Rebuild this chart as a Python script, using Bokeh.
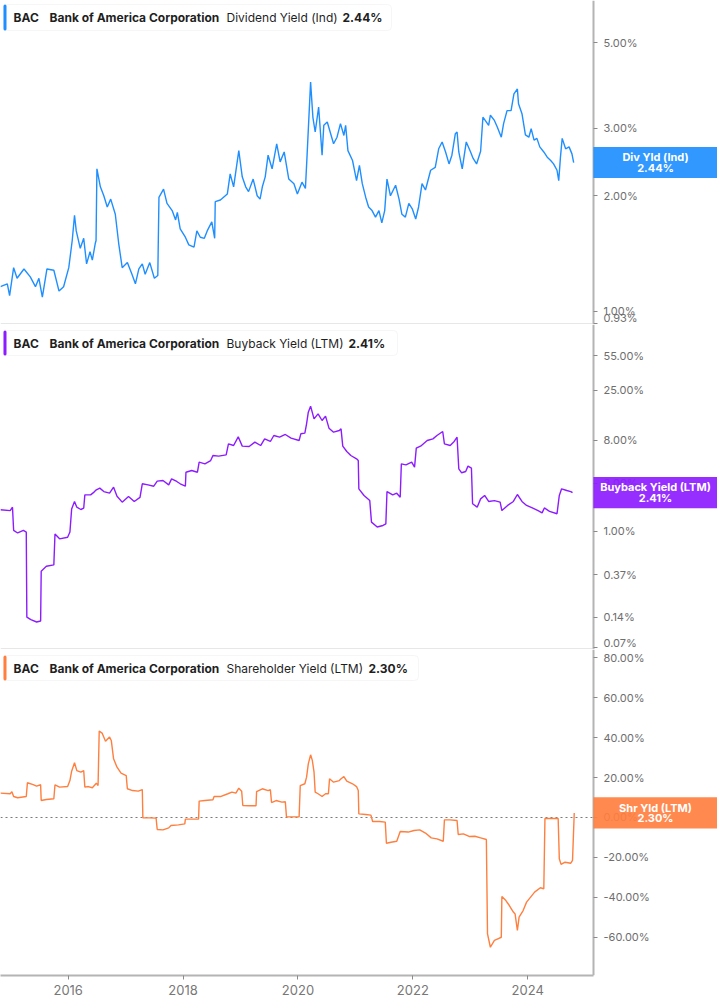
import math
from bokeh.plotting import figure
from bokeh.models import Range1d, FixedTicker, PrintfTickFormatter, Label, BoxAnnotation
from bokeh.layouts import column
from bokeh.embed import file_html
from bokeh.resources import INLINE

# ---------------- data ----------------
div_years = [2014.82, 2014.94, 2014.98, 2015.05, 2015.11, 2015.23, 2015.34, 2015.43, 2015.49, 2015.55,
             2015.63, 2015.75, 2015.84, 2015.92, 2016.01, 2016.07, 2016.11, 2016.14, 2016.21, 2016.27,
             2016.32, 2016.38, 2016.42, 2016.47, 2016.485, 2016.50, 2016.56, 2016.62, 2016.68, 2016.74,
             2016.82, 2016.88, 2016.94, 2017.03, 2017.11, 2017.17, 2017.23, 2017.29, 2017.34, 2017.42,
             2017.50, 2017.56, 2017.58, 2017.66, 2017.72, 2017.81, 2017.87, 2017.90, 2017.95, 2018.04,
             2018.10, 2018.19, 2018.24, 2018.30, 2018.37, 2018.42, 2018.50, 2018.55, 2018.56, 2018.65,
             2018.77, 2018.82, 2018.88, 2018.97, 2019.03, 2019.09, 2019.14, 2019.22, 2019.29, 2019.34,
             2019.38, 2019.43, 2019.48, 2019.55, 2019.63, 2019.69, 2019.76, 2019.84, 2019.93, 2019.99,
             2020.07, 2020.13, 2020.16, 2020.22, 2020.26, 2020.30, 2020.36, 2020.42, 2020.45, 2020.51,
             2020.62, 2020.68, 2020.74, 2020.80, 2020.83, 2020.87, 2020.95, 2021.02, 2021.07, 2021.12,
             2021.18, 2021.23, 2021.29, 2021.35, 2021.41, 2021.46, 2021.51, 2021.55, 2021.61, 2021.70,
             2021.76, 2021.81, 2021.87, 2021.93, 2021.99, 2022.05, 2022.10, 2022.16, 2022.22, 2022.31,
             2022.39, 2022.45, 2022.51, 2022.57, 2022.63, 2022.68, 2022.74, 2022.77, 2022.80, 2022.86,
             2022.93, 2023.00, 2023.05, 2023.11, 2023.18, 2023.22, 2023.26, 2023.32, 2023.35, 2023.42,
             2023.47, 2023.54, 2023.58, 2023.64, 2023.71, 2023.76, 2023.82, 2023.84, 2023.90, 2023.96,
             2024.02, 2024.06, 2024.11, 2024.16, 2024.21, 2024.28, 2024.34, 2024.40, 2024.45, 2024.51,
             2024.54, 2024.57, 2024.60, 2024.66, 2024.72, 2024.77, 2024.80]
div_vals = [1.16, 1.18, 1.10, 1.30, 1.22, 1.29, 1.23, 1.16, 1.22, 1.09,
            1.29, 1.28, 1.13, 1.16, 1.30, 1.53, 1.78, 1.62, 1.46, 1.55,
            1.33, 1.43, 1.36, 1.50, 1.53, 2.35, 2.11, 2.00, 1.87, 1.96,
            1.79, 1.50, 1.30, 1.34, 1.25, 1.18, 1.29, 1.33, 1.25, 1.34,
            1.22, 1.24, 1.98, 2.08, 1.91, 1.83, 1.73, 1.81, 1.64, 1.56,
            1.49, 1.47, 1.62, 1.56, 1.55, 1.62, 1.71, 1.55, 1.93, 1.95,
            2.02, 2.28, 2.11, 2.62, 2.24, 2.11, 2.05, 2.21, 2.00, 1.96,
            2.11, 2.24, 2.55, 2.35, 2.73, 2.45, 2.60, 2.21, 2.15, 2.02,
            2.17, 2.09, 2.57, 3.95, 3.20, 2.93, 3.40, 2.55, 3.05, 3.11,
            2.73, 2.84, 3.08, 2.87, 3.05, 2.62, 2.47, 2.19, 2.40, 2.15,
            1.98, 1.87, 1.83, 1.76, 1.83, 1.70, 1.83, 2.21, 2.00, 2.13,
            1.96, 1.79, 1.76, 1.91, 1.85, 1.74, 1.87, 2.15, 2.07, 2.33,
            2.37, 2.65, 2.76, 2.60, 2.42, 2.55, 2.90, 2.93, 2.60, 2.35,
            2.76, 2.61, 2.50, 2.42, 2.61, 3.20, 3.14, 3.05, 3.24, 3.14,
            3.02, 2.84, 3.08, 3.33, 3.33, 3.68, 3.79, 3.47, 3.27, 2.88,
            2.84, 2.99, 2.79, 2.82, 2.68, 2.60, 2.52, 2.47, 2.42, 2.33,
            2.19, 2.52, 2.82, 2.65, 2.68, 2.57, 2.44]

bb_years = [2014.82, 2014.99, 2015.03, 2015.05, 2015.12, 2015.22, 2015.27, 2015.28, 2015.35, 2015.45,
            2015.52, 2015.53, 2015.62, 2015.75, 2015.77, 2015.85, 2015.99, 2016.03, 2016.06, 2016.11,
            2016.15, 2016.22, 2016.27, 2016.29, 2016.39, 2016.45, 2016.49, 2016.55, 2016.62, 2016.72,
            2016.79, 2016.85, 2016.94, 2017.05, 2017.15, 2017.25, 2017.29, 2017.39, 2017.49, 2017.55,
            2017.65, 2017.75, 2017.80, 2017.89, 2017.95, 2018.04, 2018.05, 2018.15, 2018.25, 2018.28,
            2018.38, 2018.48, 2018.52, 2018.62, 2018.75, 2018.79, 2018.88, 2018.96, 2019.03, 2019.15,
            2019.25, 2019.35, 2019.42, 2019.52, 2019.58, 2019.68, 2019.78, 2019.88, 2020.02, 2020.05,
            2020.12, 2020.15, 2020.18, 2020.22, 2020.28, 2020.35, 2020.42, 2020.48, 2020.54, 2020.62,
            2020.72, 2020.75, 2020.78, 2020.85, 2020.92, 2021.02, 2021.05, 2021.06, 2021.15, 2021.25,
            2021.28, 2021.38, 2021.48, 2021.53, 2021.55, 2021.65, 2021.72, 2021.78, 2021.80, 2021.88,
            2021.98, 2022.03, 2022.06, 2022.15, 2022.25, 2022.35, 2022.42, 2022.52, 2022.55, 2022.65,
            2022.72, 2022.77, 2022.80, 2022.85, 2022.92, 2022.96, 2023.02, 2023.04, 2023.12, 2023.18,
            2023.25, 2023.32, 2023.42, 2023.52, 2023.55, 2023.65, 2023.75, 2023.82, 2023.90, 2023.98,
            2024.08, 2024.18, 2024.25, 2024.29, 2024.38, 2024.51, 2024.55, 2024.59, 2024.68, 2024.75,
            2024.78]
bb_vals = [1.63, 1.60, 1.73, 1.02, 0.96, 1.02, 0.98, 0.141, 0.133, 0.126,
           0.129, 0.402, 0.450, 0.464, 0.94, 0.84, 0.87, 0.98, 1.66, 1.97,
           1.73, 1.64, 1.69, 2.29, 2.29, 2.44, 2.57, 2.67, 2.47, 2.38,
           2.73, 2.22, 1.94, 2.21, 1.97, 2.16, 2.95, 2.88, 2.79, 3.13,
           3.18, 2.88, 3.30, 3.11, 2.95, 2.79, 3.84, 3.99, 3.84, 4.83,
           4.65, 5.01, 5.62, 5.54, 5.71, 7.33, 7.06, 8.61, 6.96, 6.90,
           7.62, 7.06, 8.22, 7.74, 8.87, 8.54, 9.08, 8.35, 7.91, 9.22,
           9.36, 11.57, 15.11, 17.32, 12.98, 14.54, 12.49, 13.79, 10.49, 9.57,
           9.94, 10.33, 6.96, 6.16, 5.62, 5.21, 5.01, 2.63, 2.26, 2.01,
           1.23, 1.10, 1.14, 1.18, 2.47, 2.29, 2.38, 2.17, 4.65, 4.54,
           4.83, 4.31, 6.65, 7.06, 7.91, 8.22, 8.87, 9.72, 7.33, 7.06,
           7.74, 8.54, 4.15, 3.79, 3.90, 4.41, 4.21, 1.87, 1.73, 2.09,
           2.26, 1.97, 2.01, 1.94, 1.60, 1.80, 1.97, 2.31, 1.97, 1.80,
           1.70, 1.60, 1.52, 1.70, 1.57, 1.49, 2.26, 2.63, 2.53, 2.47,
           2.41]

shy_years = [2014.82, 2014.99, 2015.02, 2015.05, 2015.12, 2015.27, 2015.29, 2015.39, 2015.45, 2015.52,
             2015.53, 2015.62, 2015.75, 2015.77, 2015.85, 2015.99, 2016.03, 2016.06, 2016.11, 2016.15,
             2016.22, 2016.27, 2016.29, 2016.35, 2016.42, 2016.49, 2016.52, 2016.54, 2016.59, 2016.65,
             2016.72, 2016.75, 2016.79, 2016.85, 2016.92, 2017.01, 2017.03, 2017.12, 2017.22, 2017.29,
             2017.30, 2017.42, 2017.53, 2017.55, 2017.65, 2017.75, 2017.79, 2017.92, 2018.03, 2018.04,
             2018.15, 2018.27, 2018.28, 2018.38, 2018.52, 2018.54, 2018.65, 2018.78, 2018.85, 2018.92,
             2018.97, 2019.02, 2019.04, 2019.15, 2019.27, 2019.28, 2019.38, 2019.48, 2019.52, 2019.54,
             2019.62, 2019.72, 2019.78, 2019.80, 2019.92, 2020.02, 2020.04, 2020.12, 2020.15, 2020.18,
             2020.22, 2020.25, 2020.28, 2020.30, 2020.35, 2020.42, 2020.48, 2020.53, 2020.55, 2020.62,
             2020.72, 2020.75, 2020.80, 2020.85, 2020.95, 2021.02, 2021.05, 2021.06, 2021.18, 2021.27,
             2021.30, 2021.42, 2021.52, 2021.54, 2021.62, 2021.72, 2021.78, 2021.92, 2022.02, 2022.12,
             2022.22, 2022.32, 2022.42, 2022.53, 2022.55, 2022.65, 2022.77, 2022.79, 2022.88, 2022.98,
             2023.08, 2023.18, 2023.28, 2023.30, 2023.35, 2023.42, 2023.48, 2023.54, 2023.55, 2023.62,
             2023.68, 2023.75, 2023.78, 2023.82, 2023.85, 2023.92, 2023.98, 2024.05, 2024.12, 2024.22,
             2024.28, 2024.30, 2024.42, 2024.53, 2024.55, 2024.58, 2024.65, 2024.75, 2024.78, 2024.81]
shy_vals = [12.2, 11.9, 12.9, 10.5, 9.9, 10.5, 17.4, 16.5, 15.7, 16.4,
            8.5, 9.0, 9.4, 16.4, 15.2, 15.5, 18.5, 23.2, 27.4, 23.5,
            22.7, 23.5, 15.2, 15.5, 14.9, 17.2, 16.0, 43.3, 42.3, 38.2,
            40.3, 38.6, 29.4, 25.2, 22.2, 21.0, 14.4, 13.5, 13.2, 14.0,
            -0.2, -0.2, -0.3, -6.0, -6.2, -5.2, -4.0, -3.7, -3.2, -0.8,
            -0.8, -0.8, 8.2, 8.5, 8.9, 10.5, 10.5, 11.9, 12.7, 12.2,
            14.7, 13.2, 6.0, 5.9, 5.9, 13.0, 14.4, 13.5, 13.9, 7.5,
            8.5, 7.7, 7.9, 0.3, 0.3, 0.3, 16.0, 16.9, 20.2, 26.9,
            31.4, 28.6, 22.7, 12.7, 11.9, 10.5, 11.9, 11.9, 19.4, 17.7,
            18.5, 19.4, 20.5, 18.2, 16.9, 15.5, 13.5, 1.8, 1.5, 1.2,
            -2.0, -2.0, -2.3, -12.9, -12.4, -11.9, -7.0, -7.3, -6.5, -6.2,
            -7.8, -10.2, -10.7, -11.9, -1.2, -1.2, -1.5, -8.5, -8.2, -9.5,
            -9.4, -10.2, -11.0, -58.3, -65.0, -61.6, -60.8, -60.0, -39.6, -41.6,
            -44.1, -47.4, -48.3, -56.6, -49.9, -46.6, -42.4, -39.9, -37.4, -35.2,
            -35.7, -0.5, -0.5, -0.5, -20.7, -23.5, -22.4, -22.9, -21.5, 2.30]

year_ticks = [2016, 2018, 2020, 2022, 2024]
year_labels = ["2016", "2018", "2020", "2022", "2024"]
div_ticks = [0.93, 1.0, 2.0, 3.0, 5.0]
bb_ticks = [0.07, 0.14, 0.37, 1.0, 3.0, 8.0, 25.0, 55.0]
shy_ticks = [-60, -40, -20, 0, 20, 40, 60, 80]

ticker_sym = "BAC"
company = "Bank of America Corporation"
metrics = ["Dividend Yield (Ind)", "Buyback Yield (LTM)", "Shareholder Yield (LTM)"]
metric_vals = ["2.44%", "2.41%", "2.30%"]
tag_names = ["Div Yld (Ind)", "Buyback Yield (LTM)", "Shr Yld (LTM)"]
last_vals = [2.44, 2.41, 2.30]

# ---------------- layout / style ----------------
COLORS = ["#1f8fff", "#8c1cff", "#ff7f3f"]
W = 717                 # whole width is the plot frame
AXIS_PX = 593           # pixel column where the value axis sits
PX_PER_YEAR = 57.44
X0 = 2014.8214
AXIS_X = X0 + AXIS_PX / PX_PER_YEAR
x_range = Range1d(X0, X0 + W / PX_PER_YEAR)
FONT = "Inter"

panels = [
    dict(top=0, fh=324, log=True, lo=0.925, hi=6.44, ticks=div_ticks, xs=div_years, ys=div_vals,
         box=(4, 30, 391), val_x=342, sep=True, zero=False),
    dict(top=324, fh=325, log=True, lo=0.0673, hi=111.6, ticks=bb_ticks, xs=bb_years, ys=bb_vals,
         box=(330, 355, 397), val_x=348, sep=True, zero=False),
    dict(top=649, fh=326, log=False, lo=-79.16, hi=84.17, ticks=shy_ticks, xs=shy_years, ys=shy_vals,
         box=(655, 680, 418), val_x=368, sep=False, zero=True),
]


def screen_box(left, right, top, bottom, **kw):
    return BoxAnnotation(left=left, right=right, top=top, bottom=bottom,
                         left_units="screen", right_units="screen",
                         top_units="screen", bottom_units="screen", **kw)


figs = []
for i, cfg in enumerate(panels):
    bottom_axis = (i == 2)
    bb = 28 if bottom_axis else 0
    p = figure(width=W, height=cfg["fh"] + bb, x_range=x_range,
               y_range=Range1d(cfg["lo"], cfg["hi"]),
               y_axis_type="log" if cfg["log"] else "linear",
               y_axis_location="right",
               x_axis_location="below" if bottom_axis else None,
               toolbar_location=None, output_backend="svg",
               min_border_left=0, min_border_right=0,
               min_border_top=0, min_border_bottom=bb)
    p.outline_line_color = None
    p.xgrid.visible = False
    p.ygrid.visible = False
    p.background_fill_color = "white"
    p.border_fill_color = "white"

    ya = p.yaxis[0]
    ya.fixed_location = AXIS_X
    ya.ticker = FixedTicker(ticks=cfg["ticks"])
    ya.formatter = PrintfTickFormatter(format="%.2f%%")
    ya.axis_line_color = "#b4b4b4"
    ya.axis_line_width = 2
    ya.major_tick_line_color = "#8a8a8a"
    ya.major_tick_out = 4
    ya.major_tick_in = 0
    ya.minor_tick_line_color = None
    ya.major_label_text_font = FONT
    ya.major_label_text_font_size = "11px"
    ya.major_label_text_color = "#6e6e6e"
    ya.major_label_standoff = 6

    if bottom_axis:
        xa = p.xaxis[0]
        xa.bounds = (X0, AXIS_X)
        xa.ticker = FixedTicker(ticks=year_ticks)
        xa.major_label_overrides = {t: l for t, l in zip(year_ticks, year_labels)}
        xa.axis_line_color = "#b4b4b4"
        xa.axis_line_width = 2
        xa.major_tick_line_color = "#8a8a8a"
        xa.major_tick_out = 4
        xa.major_tick_in = 0
        xa.minor_tick_line_color = None
        xa.major_label_text_font = FONT
        xa.major_label_text_font_size = "13px"
        xa.major_label_text_color = "#777777"
        xa.major_label_standoff = 5

    if cfg["sep"]:
        p.add_layout(screen_box(0, AXIS_PX, 1, 0, fill_color="#cfcfcf", fill_alpha=1.0,
                                line_color=None))
    if cfg["zero"]:
        # dotted zero reference line, stopping at the value axis
        p.segment(x0=[X0], y0=[0], x1=[AXIS_X], y1=[0], line_color="#7a7a7a",
                  line_width=1, line_dash="2 3")

    p.line(cfg["xs"], cfg["ys"], line_color=COLORS[i], line_width=1.4)

    T, H = cfg["top"], cfg["fh"]

    def sy(py, T=T, H=H):
        return T + H - py

    # header box
    btop, bbot, bright = cfg["box"]
    p.add_layout(screen_box(3, bright, sy(btop), sy(bbot), fill_color="white", fill_alpha=1.0,
                            line_color="#e2e2e2", line_width=1, border_radius=4))
    p.add_layout(screen_box(3, 6, sy(btop), sy(bbot), fill_color=COLORS[i], fill_alpha=1.0,
                            line_color=None, border_radius=2))
    cy = sy((btop + bbot) / 2.0)
    for txt, px, style in [(ticker_sym, 13, "bold"), (company, 49, "bold"),
                           (metrics[i], 226, "normal"), (metric_vals[i], cfg["val_x"], "bold")]:
        p.add_layout(Label(x=px, y=cy, x_units="screen", y_units="screen", text=txt,
                           text_font=FONT, text_font_size="12px", text_font_style=style,
                           text_color="#1f1f1f", text_align="left", text_baseline="middle"))

    # value tag over the axis labels, centred on the last value
    f = math.log10 if cfg["log"] else (lambda v: v)
    vy = H * (f(last_vals[i]) - f(cfg["lo"])) / (f(cfg["hi"]) - f(cfg["lo"]))
    half_w = (W - AXIS_PX) / 2.0
    cx = AXIS_PX + half_w
    p.add_layout(Label(x=cx, y=vy, x_units="screen", y_units="screen", text=" ",
                       text_font_size="1px", text_color=COLORS[i],
                       text_align="center", text_baseline="middle",
                       background_fill_color=COLORS[i], background_fill_alpha=0.92,
                       padding=dict(left=int(half_w), right=int(half_w), top=15, bottom=15)))
    p.add_layout(Label(x=cx, y=vy + 5.3, x_units="screen", y_units="screen",
                       text=tag_names[i], text_font=FONT, text_font_size="11px",
                       text_font_style="bold", text_color="white",
                       text_align="center", text_baseline="middle"))
    p.add_layout(Label(x=cx, y=vy - 5.3, x_units="screen", y_units="screen",
                       text="%.2f%%" % last_vals[i], text_font=FONT, text_font_size="11px",
                       text_font_style="bold", text_color="white",
                       text_align="center", text_baseline="middle"))
    figs.append(p)

layout = column(*figs, spacing=0)
open("out.html", "w").write(file_html(layout, INLINE))
